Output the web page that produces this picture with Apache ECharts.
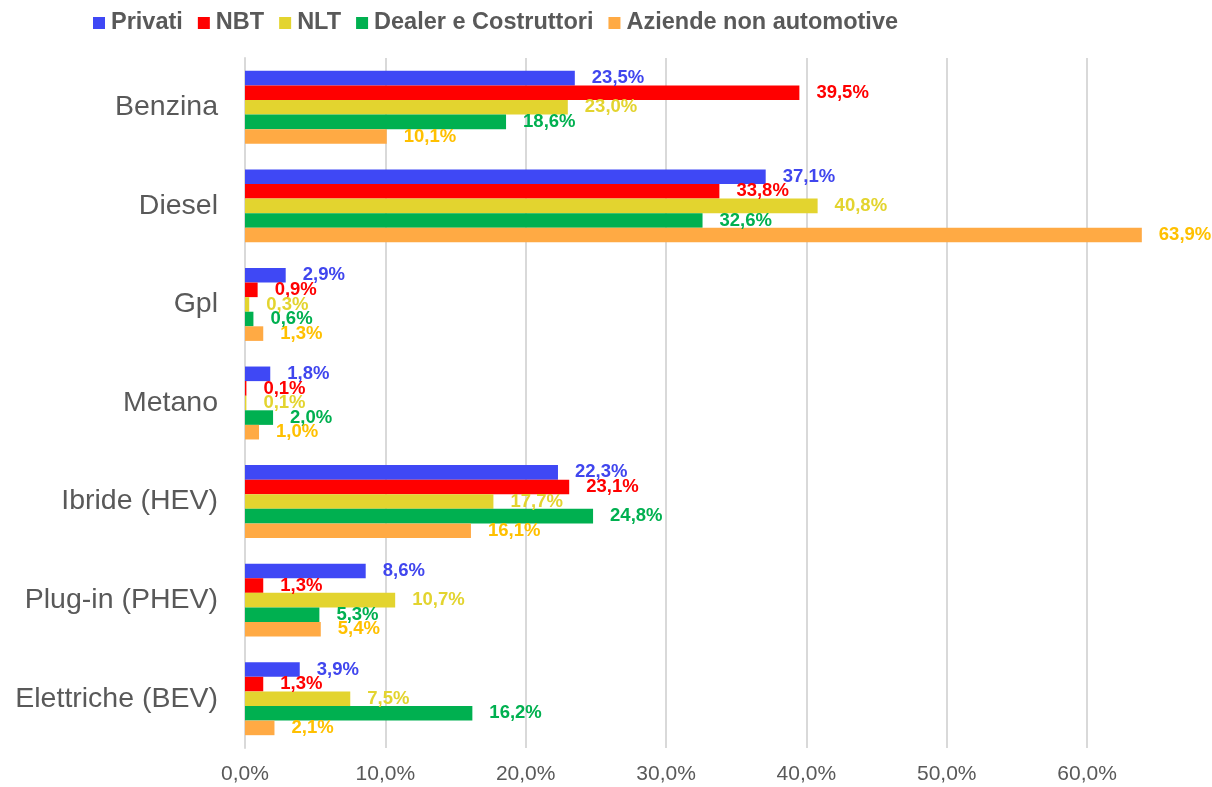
<!DOCTYPE html>
<html>
<head>
<meta charset="utf-8">
<script src="https://cdn.jsdelivr.net/npm/echarts@6/dist/echarts.min.js"></script>
<style>
  html, body { margin: 0; padding: 0; background: #fff; }
  #chart { width: 1212px; height: 787px; }
</style>
</head>
<body>
<div id="chart"></div>
<script>
// dati (quote %)
var categories = ['Benzina', 'Diesel', 'Gpl', 'Metano', 'Ibride (HEV)', 'Plug-in (PHEV)', 'Elettriche (BEV)']
var seriesNames = ['Privati', 'NBT', 'NLT', 'Dealer e Costruttori', 'Aziende non automotive']
var privati = [23.5, 37.1, 2.9, 1.8, 22.3, 8.6, 3.9]
var nbt = [39.5, 33.8, 0.9, 0.1, 23.1, 1.3, 1.3]
var nlt = [23.0, 40.8, 0.3, 0.1, 17.7, 10.7, 7.5]
var dealer = [18.6, 32.6, 0.6, 2.0, 24.8, 5.3, 16.2]
var aziende = [10.1, 63.9, 1.3, 1.0, 16.1, 5.4, 2.1]

var barColors = ['#3F48F5', '#FF0000', '#E3D42F', '#00B050', '#FFAA44']
var labelColors = ['#4046EE', '#FF0000', '#E3D42F', '#00B050', '#FFC000']

function fmt(v) {
  return v.toFixed(1).replace('.', ',') + '%'
}

var chart = echarts.init(document.getElementById('chart'))

var allData = [privati, nbt, nlt, dealer, aziende]
var series = allData.map(function(d, i) {
  return {
    name: seriesNames[i],
    type: 'bar',
    data: d,
    barGap: '0%',
    barCategoryGap: '26%',
    itemStyle: { color: barColors[i] },
    label: {
      show: true,
      position: 'right',
      distance: 17,
      color: labelColors[i],
      fontFamily: 'Liberation Sans',
      fontWeight: 'bold',
      fontSize: 18.5,
      formatter: function(p) { return fmt(p.value) }
    }
  }
})

// l'asse arriva al bordo destro: ultima linea (estremo) nascosta
var gridColors = ['#D9D9D9', '#D9D9D9', '#D9D9D9', '#D9D9D9', '#D9D9D9', '#D9D9D9', '#D9D9D9', 'rgba(0,0,0,0)']

var option = {
  animation: false,
  textStyle: { fontFamily: 'Liberation Sans' },
  legend: {
    left: 88,
    top: 6,
    itemWidth: 12,
    itemHeight: 12,
    itemGap: 15,
    icon: 'rect',
    textStyle: {
      color: '#595959',
      fontWeight: 'bold',
      fontSize: 23.5,
      fontFamily: 'Liberation Sans',
      padding: [0, 0, 0, 1]
    },
    data: seriesNames
  },
  grid: {
    left: 245,
    right: 0,
    top: 58,
    bottom: 39,
    containLabel: false
  },
  xAxis: {
    type: 'value',
    min: 0,
    max: 68.9,
    interval: 10,
    axisLine: { show: false },
    axisTick: { show: false },
    splitLine: { lineStyle: { color: gridColors, width: 2 } },
    axisLabel: {
      color: '#595959',
      fontSize: 21,
      margin: 16,
      showMaxLabel: false,
      formatter: function(v) { return fmt(v) }
    }
  },
  yAxis: {
    type: 'category',
    inverse: true,
    data: categories,
    axisLine: { lineStyle: { color: '#D9D9D9', width: 2 } },
    axisTick: { show: false },
    axisLabel: {
      color: '#595959',
      fontSize: 28.5,
      margin: 27
    }
  },
  series: series
}

chart.setOption(option)
</script>
</body>
</html>
